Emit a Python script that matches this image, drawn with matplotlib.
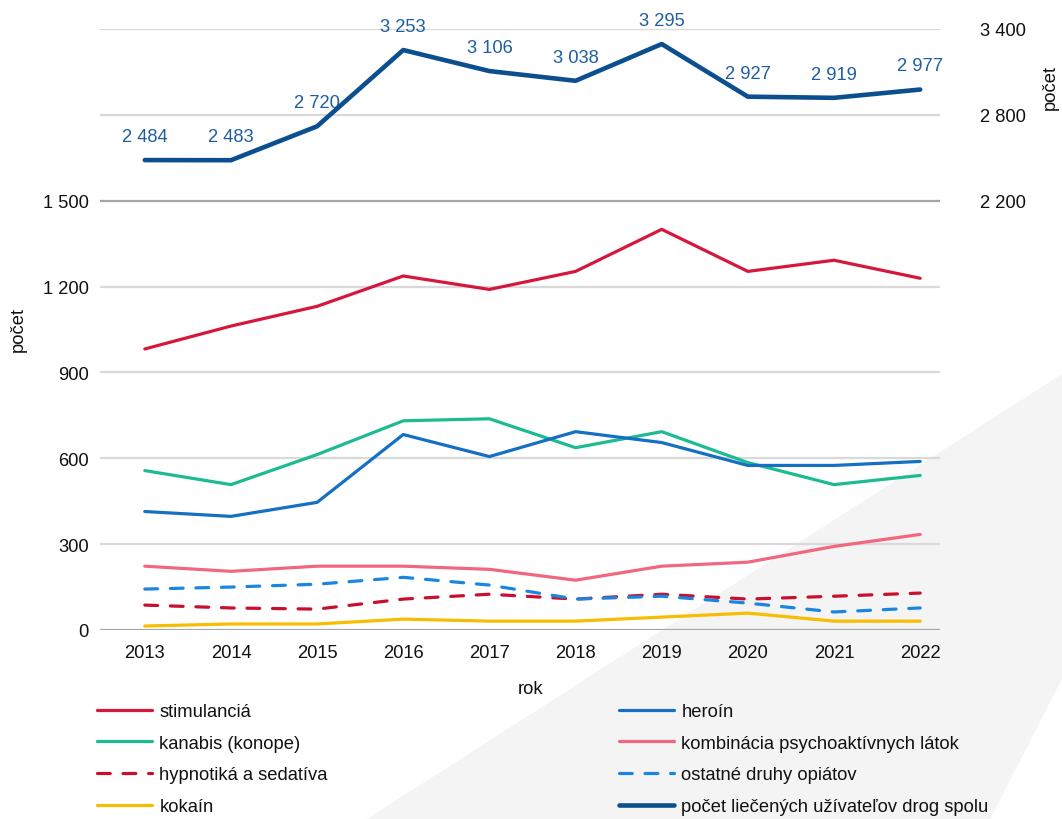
import matplotlib
matplotlib.use('Agg')
import matplotlib.pyplot as plt
from matplotlib.patches import Polygon
from matplotlib.lines import Line2D
from matplotlib.ticker import FuncFormatter

plt.rcParams['font.family'] = ['Liberation Sans', 'DejaVu Sans']

# --- data ---
years = [2013, 2014, 2015, 2016, 2017, 2018, 2019, 2020, 2021, 2022]
stimulancia = [982, 1062, 1131, 1237, 1190, 1253, 1400, 1253, 1292, 1229]
heroin = [414, 397, 446, 683, 606, 693, 655, 575, 575, 589]
kanabis = [557, 508, 613, 731, 738, 637, 693, 585, 508, 540]
kombinacia = [223, 205, 223, 223, 212, 174, 223, 237, 292, 334]
hypnotika = [87, 77, 73, 108, 125, 108, 125, 108, 118, 129]
ostatne_opiaty = [143, 150, 160, 184, 157, 108, 118, 94, 63, 77]
kokain = [14, 21, 21, 38, 31, 31, 45, 59, 31, 31]
spolu = [2484, 2483, 2720, 3253, 3106, 3038, 3295, 2927, 2919, 2977]

left_ticks = [0, 300, 600, 900, 1200, 1500]
right_ticks = [2200, 2800, 3400]

# series: label, values, colour, dashed
series = [
    ("stimulanciá", stimulancia, "#d6173d", False),
    ("kanabis (konope)", kanabis, "#1dbb92", False),
    ("hypnotiká a sedatíva", hypnotika, "#c8102e", True),
    ("kokaín", kokain, "#f7bd00", False),
    ("heroín", heroin, "#1570c4", False),
    ("kombinácia psychoaktívnych látok", kombinacia, "#f1687e", False),
    ("ostatné druhy opiátov", ostatne_opiaty, "#1a86e0", True),
]
total_label = "počet liečených užívateľov drog spolu"
total_color = "#0b4f8f"
label_color = "#1f5fa0"
FS = 13.2
DASH = (4, 4)


def space_fmt(v, pos=None):
    return f"{int(round(v)):,}".replace(",", " ")


fig = plt.figure(figsize=(10.62, 8.2), dpi=100)

# decorative grey band in the lower right
band = Polygon([(367 / 1062, 0), (1, 1 - 375 / 820), (1, 1 - 680 / 820), (990 / 1062, 0)],
               closed=True, transform=fig.transFigure, facecolor="#f4f4f4",
               edgecolor="none", zorder=-1)
fig.add_artist(band)

ax = fig.add_axes([100 / 1062, 1 - 631 / 820, 840 / 1062, 601 / 820])
ax.patch.set_visible(False)
ax2 = ax.twinx()
ax2.patch.set_visible(False)

ax.set_xlim(2012.48, 2022.23)
ax.set_ylim(0, 2100)
ax2.set_ylim(-800, 3400)

# gridlines (every 300 on the left axis)
for g in range(0, 2101, 300):
    col = "#a6a6a6" if g in (0, 1500) else "#d9d9d9"
    ax.axhline(g, color=col, lw=1.6, zorder=1)

for label, vals, col, dashed in series:
    ax.plot(years, vals, color=col, lw=2.3, zorder=3,
            dashes=DASH if dashed else (None, None), solid_capstyle='round',
            dash_capstyle='round')

ax2.plot(years, spolu, color=total_color, lw=3.3, zorder=4, solid_capstyle='round')
for x, v in zip(years, spolu):
    ax2.annotate(space_fmt(v), (x, v), xytext=(0, 17), textcoords='offset points',
                 ha='center', va='center', fontsize=FS, color=label_color)

for a in (ax, ax2):
    for s in a.spines.values():
        s.set_visible(False)

ax.set_xticks(years)
ax.set_xticklabels([str(y) for y in years])
ax.set_yticks(left_ticks)
ax.yaxis.set_major_formatter(FuncFormatter(space_fmt))
ax2.set_yticks(right_ticks)
ax2.yaxis.set_major_formatter(FuncFormatter(space_fmt))
ax.tick_params(axis='both', length=0, labelsize=FS, colors="#111111")
ax.tick_params(axis='y', pad=8)
ax.tick_params(axis='x', pad=10)
ax2.tick_params(axis='y', length=0, labelsize=FS, colors="#111111", pad=29)

fig.text(18 / 1062, 1 - 330 / 820, "počet", rotation=90, ha='center', va='center',
         fontsize=FS, color="#111111")
fig.text(1050 / 1062, 1 - 88 / 820, "počet", rotation=90, ha='center', va='center',
         fontsize=FS, color="#111111")
fig.text(531 / 1062, 1 - 690 / 820, "rok", ha='center', va='center',
         fontsize=FS, color="#111111")

# legend: two columns built separately
def make_handle(col, dashed, lw=2.3):
    return Line2D([], [], color=col, lw=lw, dashes=DASH if dashed else (None, None),
                  solid_capstyle='round', dash_capstyle='round')

left_h = [make_handle(c, d) for _, _, c, d in series[:4]]
left_l = [s[0] for s in series[:4]]
right_h = [make_handle(c, d) for _, _, c, d in series[4:]] + [make_handle(total_color, False, 3.3)]
right_l = [s[0] for s in series[4:]] + [total_label]

leg_kw = dict(frameon=False, fontsize=FS, handlelength=3.0, handletextpad=0.4,
              labelspacing=0.8, loc='upper left', borderaxespad=0, borderpad=0)
leg1 = fig.legend(left_h, left_l, bbox_to_anchor=(97 / 1062, 1 - 704 / 820), **leg_kw)
leg2 = fig.legend(right_h, right_l, bbox_to_anchor=(619 / 1062, 1 - 704 / 820), **leg_kw)
for lg in (leg1, leg2):
    for t in lg.get_texts():
        t.set_color("#111111")

fig.savefig("out.png", dpi=100)
